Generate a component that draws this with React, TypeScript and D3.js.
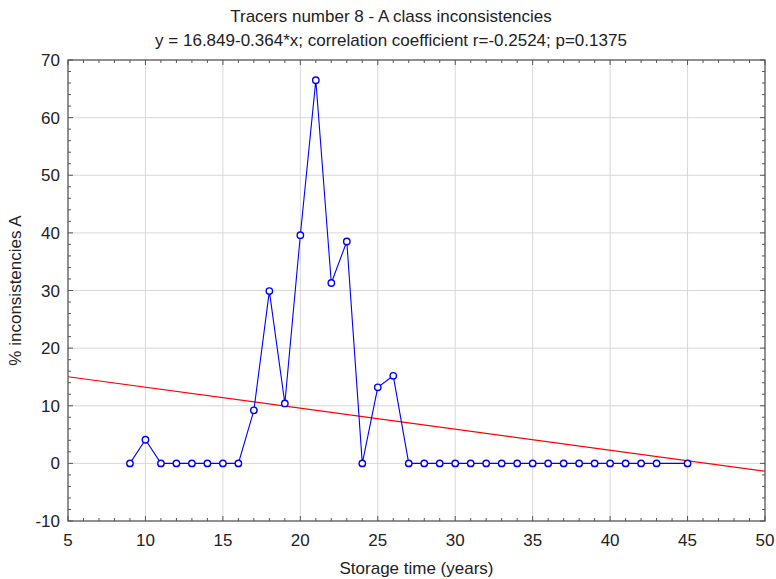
import { useEffect, useRef } from 'react';
import * as d3 from 'd3';

const years = [9, 10, 11, 12, 13, 14, 15, 16, 17, 18, 19, 20, 21, 22, 23, 24, 25, 26, 27, 28, 29, 30, 31, 32, 33, 34, 35, 36, 37, 38, 39, 40, 41, 42, 43, 45];
const inconsistencies = [0, 4.1, 0, 0, 0, 0, 0, 0, 9.2, 29.9, 10.4, 39.6, 66.5, 31.3, 38.5, 0, 13.2, 15.2, 0, 0, 0, 0, 0, 0, 0, 0, 0, 0, 0, 0, 0, 0, 0, 0, 0, 0];
const xTicks = [5, 10, 15, 20, 25, 30, 35, 40, 45, 50];
const yTicks = [-10, 0, 10, 20, 30, 40, 50, 60, 70];
const fit = { intercept: 16.849, slope: -0.364 };

const App = () => {
  const svgRef = useRef<SVGSVGElement>(null);

  useEffect(() => {
    if (!svgRef.current) return;
    const svg = d3.select(svgRef.current);
    svg.selectAll('*').remove();

    const width = 776;
    const height = 579;
    const m = { left: 68, right: 11, top: 60, bottom: 58 };
    const font = '"Liberation Sans", Arial, sans-serif';
    const fs = 17;

    const x = d3.scaleLinear().domain([5, 50]).range([m.left, width - m.right]);
    const y = d3.scaleLinear().domain([-10, 70]).range([height - m.bottom, m.top]);

    svg.attr('width', width).attr('height', height).attr('font-family', font);
    svg.append('rect').attr('width', width).attr('height', height).attr('fill', '#fff');

    // grid
    const grid = svg.append('g').attr('stroke', '#d8d8d8').attr('stroke-width', 1);
    xTicks.slice(1, -1).forEach(t => {
      grid.append('line').attr('x1', x(t)).attr('x2', x(t)).attr('y1', y(-10)).attr('y2', y(70));
    });
    yTicks.slice(1, -1).forEach(t => {
      grid.append('line').attr('x1', x(5)).attr('x2', x(50)).attr('y1', y(t)).attr('y2', y(t));
    });

    // regression line
    svg.append('line')
      .attr('x1', x(5)).attr('y1', y(fit.intercept + fit.slope * 5))
      .attr('x2', x(50)).attr('y2', y(fit.intercept + fit.slope * 50))
      .attr('stroke', '#ff0000').attr('stroke-width', 1.2);

    // data series
    const pts = years.map((yr, i) => [yr, inconsistencies[i]] as [number, number]);
    svg.append('path')
      .datum(pts)
      .attr('fill', 'none')
      .attr('stroke', '#0000ff')
      .attr('stroke-width', 1.1)
      .attr('d', d3.line<[number, number]>().x(d => x(d[0])).y(d => y(d[1])));
    svg.append('g').selectAll('circle').data(pts).join('circle')
      .attr('cx', d => x(d[0])).attr('cy', d => y(d[1])).attr('r', 3.2)
      .attr('fill', '#fff').attr('stroke', '#0000ff').attr('stroke-width', 1.4);

    // frame and inner ticks
    const axisCol = '#555';
    svg.append('rect')
      .attr('x', x(5)).attr('y', y(70))
      .attr('width', x(50) - x(5)).attr('height', y(-10) - y(70))
      .attr('fill', 'none').attr('stroke', axisCol).attr('stroke-width', 1.3);

    const ticks = svg.append('g').attr('stroke', axisCol).attr('stroke-width', 1);
    d3.range(5, 51, 1).forEach(t => {
      const len = t % 5 === 0 ? 5 : 3;
      ticks.append('line').attr('x1', x(t)).attr('x2', x(t)).attr('y1', y(-10)).attr('y2', y(-10) - len);
      ticks.append('line').attr('x1', x(t)).attr('x2', x(t)).attr('y1', y(70)).attr('y2', y(70) + len);
    });
    d3.range(-10, 71, 2).forEach(t => {
      const len = t % 10 === 0 ? 5 : 3;
      ticks.append('line').attr('x1', x(5)).attr('x2', x(5) + len).attr('y1', y(t)).attr('y2', y(t));
      ticks.append('line').attr('x1', x(50)).attr('x2', x(50) - len).attr('y1', y(t)).attr('y2', y(t));
    });

    // tick labels
    svg.append('g').selectAll('text').data(xTicks).join('text')
      .attr('x', d => x(d)).attr('y', y(-10) + 25)
      .attr('text-anchor', 'middle').attr('font-size', fs).attr('fill', '#222')
      .text(d => d);
    svg.append('g').selectAll('text').data(yTicks).join('text')
      .attr('x', x(5) - 8).attr('y', d => y(d) + 6)
      .attr('text-anchor', 'end').attr('font-size', fs).attr('fill', '#222')
      .text(d => d);

    // titles
    svg.append('text').attr('x', width / 2 + 3).attr('y', 22)
      .attr('text-anchor', 'middle').attr('font-size', fs).attr('fill', '#222')
      .text('Tracers number 8 - A class inconsistencies');
    svg.append('text').attr('x', width / 2 + 3).attr('y', 46)
      .attr('text-anchor', 'middle').attr('font-size', fs).attr('fill', '#222')
      .text('y = 16.849-0.364*x; correlation coefficient r=-0.2524; p=0.1375');
    svg.append('text').attr('x', (x(5) + x(50)) / 2).attr('y', 574)
      .attr('text-anchor', 'middle').attr('font-size', fs).attr('fill', '#222')
      .text('Storage time (years)');
    svg.append('text')
      .attr('transform', `translate(21,${(y(-10) + y(70)) / 2}) rotate(-90)`)
      .attr('text-anchor', 'middle').attr('font-size', fs).attr('fill', '#222')
      .text('% inconsistencies A');
  }, []);

  return (
    <div style={{ position: 'absolute', left: 0, top: 0 }}>
      <svg ref={svgRef} style={{ display: 'block' }}></svg>
    </div>
  );
};

export default App;
